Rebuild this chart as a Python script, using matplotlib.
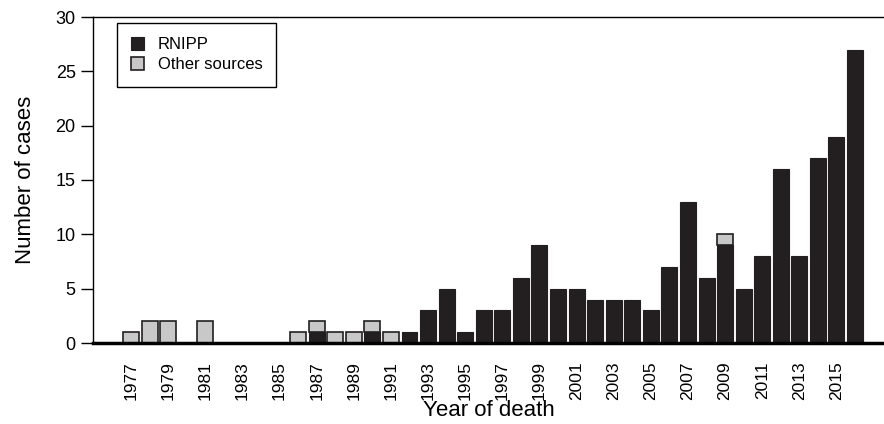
import numpy as np
import matplotlib.pyplot as plt
import matplotlib as mpl

mpl.rc('font', family='Liberation Sans')

years = np.arange(1977, 2017)
rnipp = [0, 0, 0, 0, 0, 0, 0, 0, 0, 0, 1, 0, 0, 1, 0, 1, 3, 5, 1, 3,
         3, 6, 9, 5, 5, 4, 4, 4, 3, 7, 13, 6, 9, 5, 8, 16, 8, 17, 19, 27]
otras = [1, 2, 2, 0, 2, 0, 0, 0, 0, 1, 1, 1, 1, 1, 1, 0, 0, 0, 0, 0,
         0, 0, 0, 0, 0, 0, 0, 0, 0, 0, 0, 0, 1, 0, 0, 0, 0, 0, 0, 0]
etiquetas = [str(a) for a in range(1977, 2016, 2)]

oscuro = '#231f20'
claro = '#c8c8c8'

fig = plt.figure(figsize=(8.84, 4.24), dpi=100)
ax = fig.add_axes([93/884, 81/424, 791/884, 326/424])

ax.bar(years, rnipp, width=0.86, color=oscuro, edgecolor=oscuro, linewidth=0.8,
       label='RNIPP')
otras_v = np.array(otras)
ax.bar(years[otras_v > 0], otras_v[otras_v > 0], width=0.86,
       bottom=np.array(rnipp)[otras_v > 0], color=claro, edgecolor=oscuro,
       linewidth=1.2, label='Other sources')

ax.set_xlim(1974.95, 2017.56)
ax.set_ylim(0, 30)
ax.set_yticks(range(0, 31, 5))
ax.set_xticks(range(1977, 2016, 2))
ax.set_xticklabels(etiquetas, rotation=90, fontsize=12.5)
ax.tick_params(axis='x', length=0, pad=13)
ax.tick_params(axis='y', labelsize=13, length=9, width=1, direction='out')

ax.spines['right'].set_visible(False)
ax.spines['bottom'].set_linewidth(2.5)
ax.spines['top'].set_linewidth(1)
ax.spines['left'].set_linewidth(1)

ax.set_ylabel('Number of cases', fontsize=16, labelpad=14)
ax.set_xlabel('Year of death', fontsize=16, labelpad=0)

ax.legend(loc='upper left', bbox_to_anchor=(0.03, 0.982), borderaxespad=0,
          fontsize=12, frameon=True, fancybox=False, edgecolor='black',
          framealpha=1, handlelength=0.8, handleheight=0.8, borderpad=0.85,
          labelspacing=0.3)

plt.savefig('out.png', dpi=100)
